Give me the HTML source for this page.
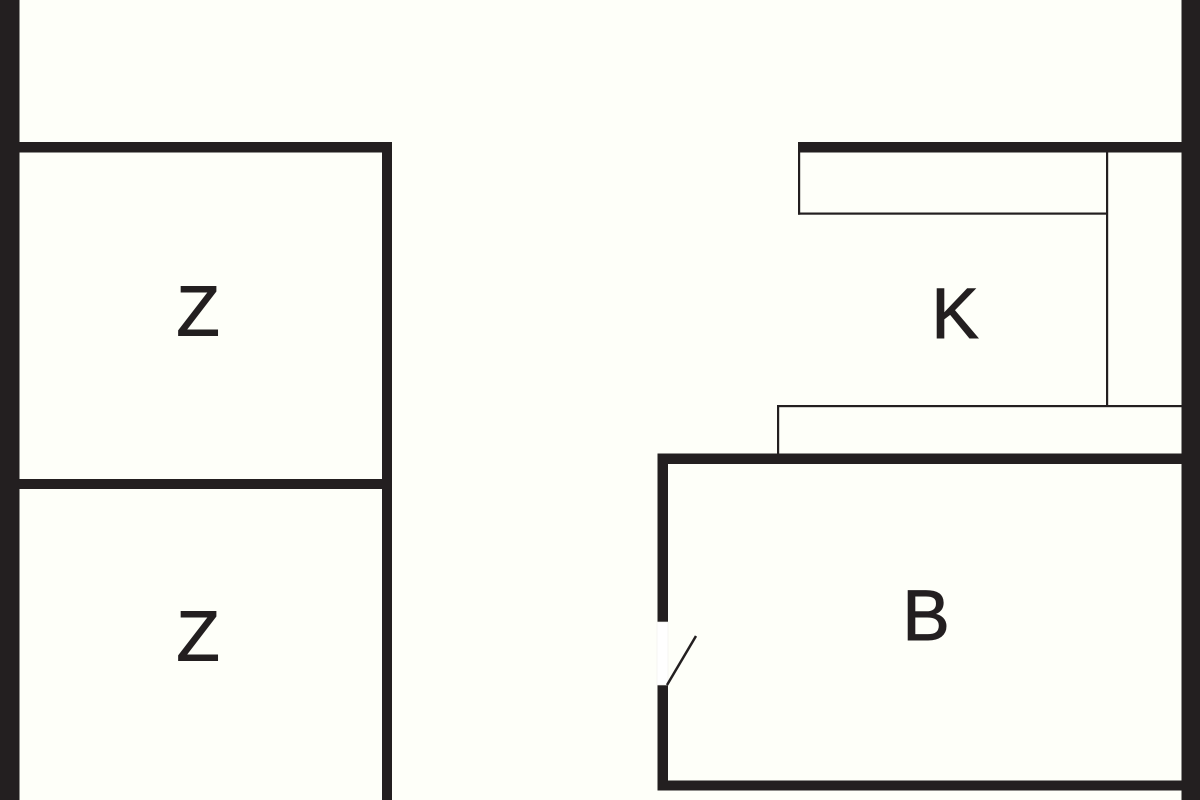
<!DOCTYPE html>
<html>
<head>
<meta charset="utf-8">
<style>
html,body{margin:0;padding:0;background:#fefff9;}
svg{display:block;}
text{font-family:"Liberation Sans",sans-serif;font-size:71px;fill:#231f20;stroke:#231f20;stroke-width:1;text-anchor:middle;}
</style>
</head>
<body>
<svg xmlns="http://www.w3.org/2000/svg" width="1200" height="800" viewBox="0 0 1200 800">
<rect width="1200" height="800" fill="#fefff9"/>
<g fill="#231f20">
<rect x="0" y="0" width="19.5" height="800"/>
<rect x="1181.5" y="0" width="18.5" height="800"/>
<rect x="0" y="142" width="392" height="10.5"/>
<rect x="382" y="142" width="10" height="658"/>
<rect x="0" y="479" width="392" height="10"/>
<rect x="798" y="142" width="390" height="10.5"/>
<rect x="657.5" y="453.5" width="530" height="10.5"/>
<rect x="657.5" y="453.5" width="10.5" height="337"/>
<rect x="657.5" y="780.5" width="530" height="10"/>
<rect x="798" y="150" width="2.2" height="64.7"/>
<rect x="798" y="212.5" width="310" height="2.2"/>
<rect x="1106" y="150" width="2.2" height="256"/>
<rect x="777" y="405" width="406" height="2.2"/>
<rect x="777" y="405" width="2.2" height="50"/>
</g>
<rect x="657" y="622" width="11" height="63" fill="#ffffff" stroke="#f0f0ec" stroke-width="0.6"/>
<line x1="667" y1="685" x2="696" y2="636" stroke="#231f20" stroke-width="2.5"/>
<text x="198" y="335.5">Z</text>
<text x="198" y="660.5">Z</text>
<text x="955" y="338">K</text>
<text x="926" y="640">B</text>
</svg>
</body>
</html>
